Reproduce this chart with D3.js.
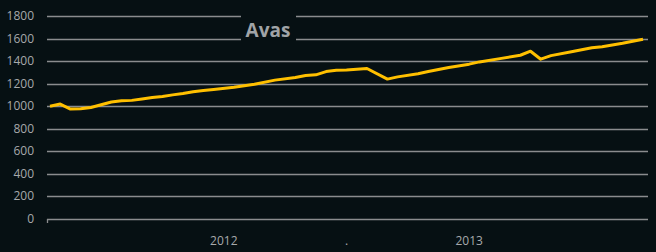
<!DOCTYPE html>
<html>
<head>
<meta charset="utf-8">
<script src="https://cdn.jsdelivr.net/npm/d3@7"></script>
<style>
  html, body { margin: 0; padding: 0; background: #061013; }
  text { font-family: "Open Sans", "Noto Sans", sans-serif; }
</style>
</head>
<body>
<script>
// months relative to Jan 2012 (0 = Jan 2012), half-month steps
const months = [-8.5, -8, -7.5, -7, -6.5, -6, -5.5, -5, -4.5, -4, -3.5, -3, -2.5, -2, -1.5, -1, -0.5,
  0.5, 1.5, 2.5, 3.5, 4, 4.5, 5, 5.5, 6, 7, 8, 8.5, 9.5, 10, 11, 12, 12.5, 13.5, 14.5, 15, 15.5, 16, 17, 18, 18.5, 19.5, 20.5];
const values = [998, 1017, 973, 975, 987, 1011, 1035, 1046, 1050, 1062, 1075, 1084, 1099, 1111, 1126, 1138, 1146,
  1166, 1194, 1230, 1253, 1271, 1277, 1306, 1318, 1321, 1333, 1239, 1259, 1286, 1306, 1342, 1372, 1392, 1421, 1451, 1487, 1416, 1448, 1483, 1518, 1527, 1557, 1593];
const yTicks = [0, 200, 400, 600, 800, 1000, 1200, 1400, 1600, 1800];
const xLabels = [{m: 0, t: "2012"}, {m: 6, t: "."}, {m: 12, t: "2013"}];
const title = "Avas";

const W = 656, H = 252;
const margin = {left: 47, right: 8, top: 16, bottom: 33};

let svg = d3.select("body").append("svg")
  .attr("width", W)
  .attr("height", H);

svg.append("rect").attr("width", W).attr("height", H).attr("fill", "#061013");

let x = d3.scaleLinear().domain([-8.5, 20.5]).range([50, 643]);
let y = d3.scaleLinear().domain([0, 1800]).range([H - margin.bottom - 0.5, margin.top]);

// gridlines
svg.append("g")
  .selectAll("line")
  .data(yTicks)
  .join("line")
  .attr("x1", margin.left)
  .attr("x2", W - margin.right)
  .attr("y1", d => Math.round(y(d)) + 0.5)
  .attr("y2", d => Math.round(y(d)) + 0.5)
  .attr("stroke", "#8a8c8e")
  .attr("stroke-width", d => d === 0 ? 1.6 : 1.3);

// small tick at left end of baseline
svg.append("line")
  .attr("x1", margin.left + 0.5).attr("x2", margin.left + 0.5)
  .attr("y1", Math.round(y(0))).attr("y2", Math.round(y(0)) + 4)
  .attr("stroke", "#8a8c8e").attr("stroke-width", 1.3);

// y labels
svg.append("g")
  .selectAll("text")
  .data(yTicks)
  .join("text")
  .attr("x", 34)
  .attr("y", d => y(d))
  .attr("dy", "0.35em")
  .attr("text-anchor", "end")
  .attr("font-size", 12)
  .attr("fill", "#a6a9ab")
  .text(d => d);

// x labels
svg.append("g")
  .selectAll("text")
  .data(xLabels)
  .join("text")
  .attr("x", d => x(d.m))
  .attr("y", 245)
  .attr("text-anchor", "middle")
  .attr("font-size", 12)
  .attr("fill", "#a6a9ab")
  .text(d => d.t);

// line
let pts = months.map((m, i) => [m, values[i]]);
let line = d3.line().x(d => x(d[0])).y(d => y(d[1]));
svg.append("path")
  .datum(pts)
  .attr("d", line)
  .attr("fill", "none")
  .attr("stroke", "#ffc000")
  .attr("stroke-width", 3)
  .attr("stroke-linejoin", "round");

// title with background box
svg.append("rect")
  .attr("x", 241).attr("y", 13)
  .attr("width", 55).attr("height", 29)
  .attr("fill", "#061013");
svg.append("text")
  .attr("x", 268)
  .attr("y", 37)
  .attr("text-anchor", "middle")
  .attr("font-size", 19)
  .attr("font-weight", "bold")
  .attr("fill", "#a0a4a7")
  .text(title);
</script>
</body>
</html>
